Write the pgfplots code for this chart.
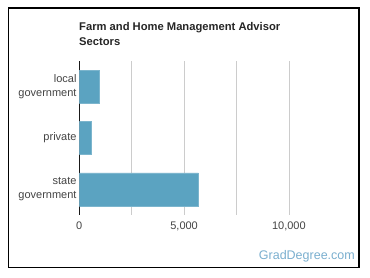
\documentclass[border=0pt]{standalone}
\usepackage{pgfplots}
\pgfplotsset{compat=1.18}
\usepackage{fontspec}
\setmainfont{Liberation Sans}
\definecolor{barblue}{HTML}{5BA3C1}
\definecolor{wm}{HTML}{7AAFCF}
\definecolor{tickgray}{HTML}{444444}
\begin{document}
\begin{tikzpicture}[x=1pt,y=1pt]
\fill[white] (0,0) rectangle (370,278);
\draw[black, line width=1.4pt] (8.5,10.5) rectangle (359,270);
\node[anchor=base west, inner sep=0pt, font=\fontsize{11.2}{13}\selectfont\bfseries, text=black!85] at (79,247) {Farm and Home Management Advisor};
\node[anchor=base west, inner sep=0pt, font=\fontsize{11.2}{13}\selectfont\bfseries, text=black!85] at (79,232.5) {Sectors};
\node[anchor=base east, inner sep=0pt, font=\fontsize{12.5}{14}\selectfont, text=wm] at (355,18) {GradDegree.com};
\begin{axis}[
  at={(79.3pt,63pt)}, anchor=south west,
  scale only axis, width=262pt, height=154pt,
  xbar, bar width=33pt,
  xmin=0, xmax=12500, ymin=-0.5, ymax=2.5,
  scaled x ticks=false,
  ytick={0,1,2},
  yticklabels={{state\\government},{private},{local\\government}},
  xtick={0,5000,10000},
  minor xtick={2500,7500},
  xmajorgrids, xminorgrids,
  major grid style={draw=black!20, line width=0.6pt},
  minor grid style={draw=black!20, line width=0.6pt},
  major tick length=0pt, minor tick length=0pt,
  axis lines*=left,
  x axis line style={draw=none},
  y axis line style={draw=black!90, line width=0.8pt},
  /pgf/number format/assume math mode=true,
  /pgf/number format/1000 sep={,},
  yticklabel style={align=right, font=\fontsize{11}{14.5}\selectfont, text=tickgray, inner xsep=0pt, xshift=-2.6pt},
  xticklabel style={font=\fontsize{11}{12}\selectfont, text=tickgray, yshift=-3pt},
]
\addplot[fill=barblue, draw=barblue!80!white] coordinates {(5680,0) (573,1) (954,2)};
\end{axis}
\end{tikzpicture}
\end{document}
